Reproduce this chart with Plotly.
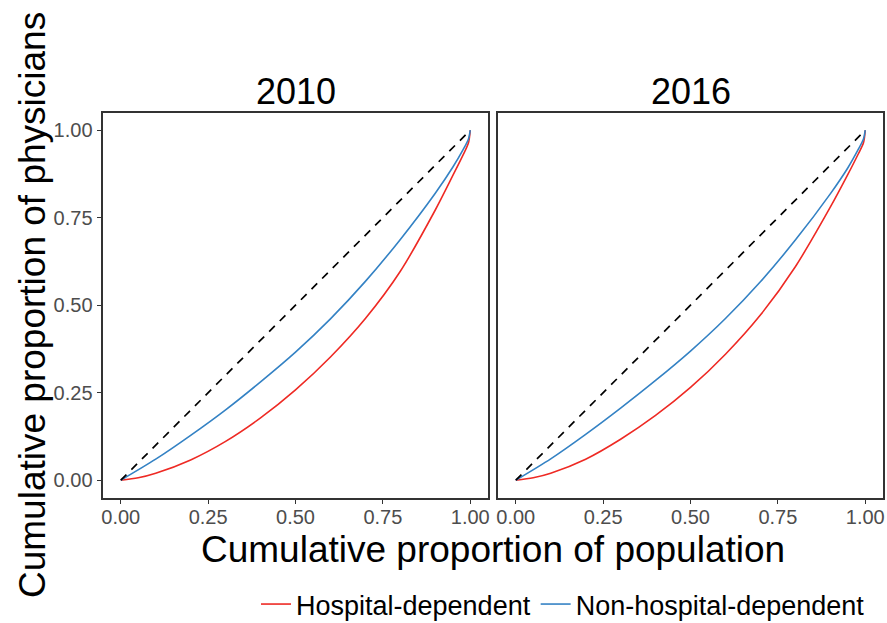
import plotly.graph_objects as go

W, H = 887, 623

# ---- data ----
years = ["2010", "2016"]
series_names = ["Hospital-dependent", "Non-hospital-dependent"]

hosp_2010_x = [0, 0.05, 0.1, 0.2, 0.3, 0.4, 0.5, 0.6, 0.7, 0.8, 0.9, 0.95, 0.98, 0.995, 1.0]
hosp_2010_y = [0, 0.007, 0.020, 0.058, 0.111, 0.178, 0.258, 0.352, 0.462, 0.597, 0.772, 0.870, 0.930, 0.964, 1.0]
nonhosp_2010_x = [0, 0.1, 0.2, 0.3, 0.4, 0.5, 0.6, 0.7, 0.8, 0.9, 0.95, 0.98, 0.995, 1.0]
nonhosp_2010_y = [0, 0.060, 0.128, 0.201, 0.281, 0.366, 0.461, 0.568, 0.688, 0.820, 0.894, 0.945, 0.975, 1.0]

hosp_2016_x = [0, 0.05, 0.1, 0.2, 0.3, 0.4, 0.5, 0.6, 0.7, 0.8, 0.9, 0.95, 0.98, 0.995, 1.0]
hosp_2016_y = [0, 0.007, 0.020, 0.060, 0.117, 0.185, 0.265, 0.360, 0.472, 0.610, 0.780, 0.873, 0.932, 0.964, 1.0]
nonhosp_2016_x = [0, 0.1, 0.2, 0.3, 0.4, 0.5, 0.6, 0.7, 0.8, 0.9, 0.95, 0.98, 0.995, 1.0]
nonhosp_2016_y = [0, 0.061, 0.131, 0.206, 0.285, 0.369, 0.462, 0.567, 0.686, 0.818, 0.892, 0.945, 0.975, 1.0]

equality_x = [0, 1]
equality_y = [0, 1]

tick_vals = [0, 0.25, 0.5, 0.75, 1.0]
tick_text = ["0.00", "0.25", "0.50", "0.75", "1.00"]

RED = "#EE2A24"
BLUE = "#3482C4"
FONT = "Liberation Sans"

fig = go.Figure()

panels = [
    ("x", "y", hosp_2010_x, hosp_2010_y, nonhosp_2010_x, nonhosp_2010_y, True),
    ("x2", "y2", hosp_2016_x, hosp_2016_y, nonhosp_2016_x, nonhosp_2016_y, False),
]
for xa, ya, hx, hy, nx, ny, show in panels:
    fig.add_trace(go.Scatter(x=hx, y=hy, mode="lines", name=series_names[0],
                             line=dict(color=RED, width=1.6, shape="spline", smoothing=0.8),
                             xaxis=xa, yaxis=ya, showlegend=show, legendrank=1))
    fig.add_trace(go.Scatter(x=nx, y=ny, mode="lines", name=series_names[1],
                             line=dict(color=BLUE, width=1.6, shape="spline", smoothing=0.8),
                             xaxis=xa, yaxis=ya, showlegend=show, legendrank=2))
    fig.add_trace(go.Scatter(x=equality_x, y=equality_y, mode="lines",
                             line=dict(color="black", width=1.7, dash="8px,7px"),
                             xaxis=xa, yaxis=ya, showlegend=False))

ydom = [1 - 497.7 / H, 1 - 112.7 / H]
x1dom = [103.3 / W, 487.7 / W]
x2dom = [498.3 / W, 882.7 / W]

axis_common = dict(range=[-0.05, 1.05], showgrid=False, zeroline=False, automargin=False,
                   showline=True, mirror=True, linecolor="#333333", linewidth=1.5,
                   ticks="outside", ticklen=5, tickwidth=1.3, tickcolor="#333333",
                   tickvals=tick_vals, ticktext=tick_text,
                   tickfont=dict(family=FONT, size=20, color="#4D4D4D"))
xaxis_common = {**axis_common, "ticklabelstandoff": -4}

fig.update_layout(
    width=W, height=H,
    margin=dict(l=0, r=0, t=0, b=0, autoexpand=False),
    paper_bgcolor="white", plot_bgcolor="white",
    font=dict(family=FONT),
    xaxis=dict(domain=x1dom, anchor="y", **xaxis_common),
    xaxis2=dict(domain=x2dom, anchor="y2", **xaxis_common),
    yaxis=dict(domain=ydom, anchor="x", **axis_common),
    yaxis2=dict(domain=ydom, anchor="x2", **{**axis_common, "ticks": "", "showticklabels": False}),
    legend=dict(orientation="h", x=256 / W, xanchor="left", y=-6 / H, yanchor="bottom",
                font=dict(family=FONT, size=27, color="black"),
                bgcolor="rgba(0,0,0,0)"),
    annotations=[
        dict(text=years[0], x=295.5 / W, y=1 - 91 / H, xref="paper", yref="paper",
             showarrow=False, xanchor="center", yanchor="middle",
             font=dict(family=FONT, size=36, color="black")),
        dict(text=years[1], x=690.5 / W, y=1 - 91 / H, xref="paper", yref="paper",
             showarrow=False, xanchor="center", yanchor="middle",
             font=dict(family=FONT, size=36, color="black")),
        dict(text="Cumulative proportion of population", x=493 / W, y=1 - 549 / H,
             xref="paper", yref="paper", showarrow=False, xanchor="center", yanchor="middle",
             font=dict(family=FONT, size=37, color="black")),
        dict(text="Cumulative proportion of physicians", x=32 / W, y=1 - 305 / H,
             xref="paper", yref="paper", showarrow=False, xanchor="center", yanchor="middle",
             textangle=-90, font=dict(family=FONT, size=37, color="black")),
    ],
)

fig.write_html("out.html", config={"displayModeBar": False},
               post_script="document.body.style.margin='0px';")
